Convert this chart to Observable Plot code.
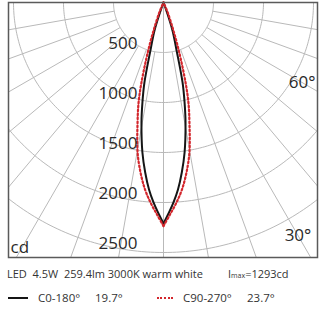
<!DOCTYPE html>
<html>
<head>
<meta charset="utf-8">
<script src="https://cdn.jsdelivr.net/npm/d3@7"></script>
<script src="https://cdn.jsdelivr.net/npm/@observablehq/plot@0.6"></script>
<style>
  html, body { margin: 0; padding: 0; background: #fff; }
  #wrap { position: relative; width: 320px; height: 320px; overflow: hidden; font-family: "Open Sans", sans-serif; color: #333; }
  .t { position: absolute; white-space: pre; line-height: 14px; }
  .l1 { font-size: 11px; top: 267px; }
  .l2 { font-size: 11.5px; top: 291px; }
  .sw { position: absolute; }
</style>
</head>
<body>
<div id="wrap">
  <div id="chart"></div>
</div>
<script>
// ---- data (intensity in scale units, cd) ----
const rings = [500, 1000, 1500, 2000, 2500, 3000];
const ringLabels = [500, 1000, 1500, 2000, 2500];
const gridAngles = [-80, -70, -60, -50, -40, -30, -20, -10, 10, 20, 30, 40, 50, 60, 70, 80];
const angleLabels = [60, 30];

// C0-180 (solid black)
const c0Theta = [0, 1.5, 2.86, 4.43, 6.14, 8, 10.4, 11.9, 13.4, 15.1, 17.8, 19.3, 21];
const c0I     = [2210, 2101, 2002, 1876, 1710, 1515, 1220, 1022, 822, 518, 294, 106, 0];
// C90-270 (dotted red)
const c90Theta = [0, 1.76, 3.72, 5.65, 7.7, 9.8, 12.2, 14.0, 15.4, 17.5, 19.3, 22.8, 25];
const c90I     = [2235, 2121, 2004, 1879, 1715, 1522, 1228, 1030, 830, 524, 318, 108, 0];

const legendTitle = "LED  4.5W  259.4lm 3000K warm white";
const imaxText = "1293cd";
const seriesNames = ["C0-180°", "C90-270°"];
const beamAngles = ["19.7°", "23.7°"];

// ---- helpers ----
const rad = a => a * Math.PI / 180;
function halves(thetas, vals) {
  const l = thetas.map((t, i) => ({side: "L", t: -t, v: vals[i]}));
  const r = thetas.map((t, i) => ({side: "R", t, v: vals[i]}));
  return l.concat(r);
}
const c0 = halves(c0Theta, c0I);
const c90 = halves(c90Theta, c90I);
const ringPts = rings.flatMap(r => d3.range(-90, 90.5, 1).map(a => ({r, a})));

const px = d => d.v * Math.sin(rad(d.t));
const py = d => d.v * Math.cos(rad(d.t));
const labelR = {60: 1600, 30: 2690};

const chart = Plot.plot({
  width: 320,
  height: 260,
  marginLeft: 8,
  marginRight: 3,
  marginTop: 2,
  marginBottom: 3,
  x: {domain: [-1550, 1540], axis: null},
  y: {domain: [0, 2550], reverse: true, axis: null},
  style: {fontFamily: "Open Sans, sans-serif", background: "white", overflow: "hidden"},
  marks: [
    Plot.line(ringPts, {x: d => d.r * Math.sin(rad(d.a)), y: d => d.r * Math.cos(rad(d.a)), z: "r", stroke: "#b9b9b9", strokeWidth: 1, clip: true}),
    Plot.link(gridAngles, {
      x1: a => 500 * Math.sin(rad(a)), y1: a => 500 * Math.cos(rad(a)),
      x2: a => 4000 * Math.sin(rad(a)), y2: a => 4000 * Math.cos(rad(a)),
      stroke: "#b9b9b9", strokeWidth: 1, clip: true
    }),
    Plot.link([0], {x1: 0, y1: 0, x2: 0, y2: 4000, stroke: "#b9b9b9", strokeWidth: 1, clip: true}),
    Plot.line(c0, {x: px, y: py, z: "side", stroke: "#151515", strokeWidth: 2, curve: "catmull-rom"}),
    Plot.line(c90, {x: px, y: py, z: "side", stroke: "#d3262c", strokeWidth: 2.2, strokeDasharray: "1.7,2.3", curve: "catmull-rom"}),
    Plot.text(ringLabels, {x: 0, y: d => d, text: d => String(d), dx: -26, dy: -9, textAnchor: "end", fontSize: 17, fill: "#2a2a2a"}),
    Plot.text(angleLabels, {
      x: a => labelR[a] * Math.sin(rad(a)), y: a => labelR[a] * Math.cos(rad(a)),
      text: a => a + "°", textAnchor: "middle", fontSize: 17, fill: "#2a2a2a"
    }),
    Plot.text(["cd"], {frameAnchor: "bottom-left", dx: 2, dy: -10, lineAnchor: "middle", textAnchor: "start", fontSize: 17, fill: "#2a2a2a"}),
    Plot.frame({stroke: "#5a5a5a", strokeWidth: 1.5})
  ]
});
document.getElementById("chart").appendChild(chart);

// ---- legend below the plot ----
const wrap = document.getElementById("wrap");
function addText(cls, left, html) {
  const d = document.createElement("div");
  d.className = "t " + cls;
  d.style.left = left + "px";
  d.innerHTML = html;
  wrap.appendChild(d);
}
addText("l1", 7, legendTitle.replace(/ /g, "&nbsp;"));
addText("l1", 228, "I<span style='font-size:7px'>max</span>=" + imaxText);
const s1 = document.createElement("div");
s1.className = "sw";
s1.style.cssText = "left:8px;top:297px;width:20px;height:0;border-top:2px solid #151515;";
wrap.appendChild(s1);
addText("l2", 38, seriesNames[0]);
addText("l2", 95, beamAngles[0]);
const s2 = document.createElement("div");
s2.className = "sw";
s2.style.cssText = "left:157px;top:297px;width:16px;height:0;border-top:2px dotted #d3262c;";
wrap.appendChild(s2);
addText("l2", 183, seriesNames[1]);
addText("l2", 247, beamAngles[1]);
</script>
</body>
</html>
